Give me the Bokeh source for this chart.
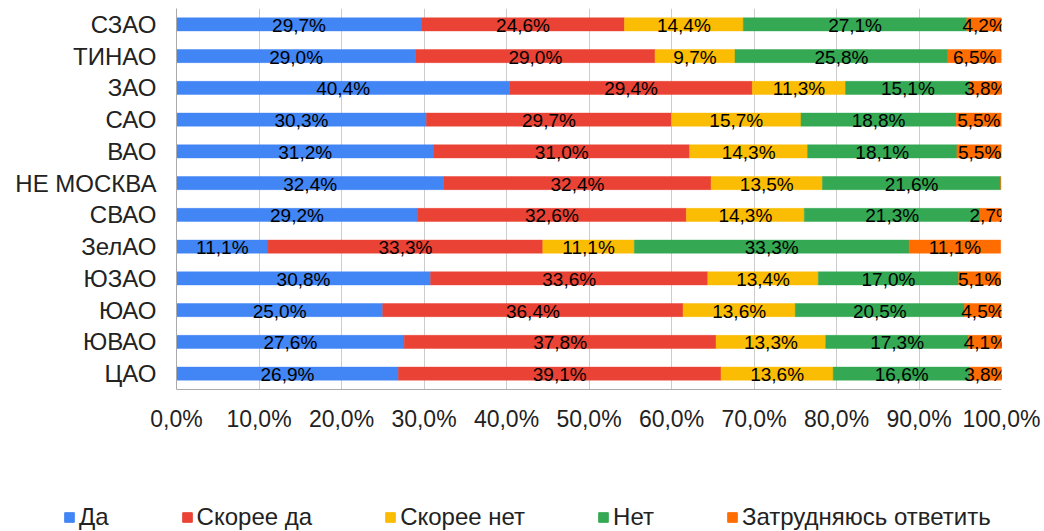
import numpy as np
from bokeh.plotting import figure
from bokeh.layouts import column
from bokeh.models import (ColumnDataSource, FactorRange, Range1d, FixedTicker,
                          Legend, LegendItem)
from bokeh.core.properties import value
from bokeh.embed import file_html
from bokeh.resources import INLINE

categories = ["СЗАО", "ТИНАО", "ЗАО", "САО", "ВАО", "НЕ МОСКВА", "СВАО",
              "ЗелАО", "ЮЗАО", "ЮАО", "ЮВАО", "ЦАО"]
series_names = ["Да", "Скорее да", "Скорее нет", "Нет", "Затрудняюсь ответить"]
da = [29.7, 29.0, 40.4, 30.3, 31.2, 32.4, 29.2, 11.1, 30.8, 25.0, 27.6, 26.9]
skoree_da = [24.6, 29.0, 29.4, 29.7, 31.0, 32.4, 32.6, 33.3, 33.6, 36.4, 37.8, 39.1]
skoree_net = [14.4, 9.7, 11.3, 15.7, 14.3, 13.5, 14.3, 11.1, 13.4, 13.6, 13.3, 13.6]
net = [27.1, 25.8, 15.1, 18.8, 18.1, 21.6, 21.3, 33.3, 17.0, 20.5, 17.3, 16.6]
zatr = [4.2, 6.5, 3.8, 5.5, 5.5, 0.0, 2.7, 11.1, 5.1, 4.5, 4.1, 3.8]
tick_values = [0, 10, 20, 30, 40, 50, 60, 70, 80, 90, 100]
tick_labels = ["0,0%", "10,0%", "20,0%", "30,0%", "40,0%", "50,0%",
               "60,0%", "70,0%", "80,0%", "90,0%", "100,0%"]
colors = ["#4285F4", "#EA4335", "#FBBC04", "#34A853", "#FF6D01"]

FONT = "Liberation Sans"

p = figure(width=1044, height=460, output_backend="svg", toolbar_location=None,
           y_range=FactorRange(factors=list(reversed(categories)), range_padding=0),
           x_range=Range1d(0, 100),
           min_border_left=176, min_border_right=43, min_border_top=8,
           min_border_bottom=71)
p.outline_line_color = None
p.frame_align = False

series = [da, skoree_da, skoree_net, net, zatr]
left = np.zeros(len(categories))
lab_x, lab_y, lab_t = [], [], []
for vals, col in zip(series, colors):
    vals = np.array(vals, dtype=float)
    right = left + vals
    src = ColumnDataSource(dict(y=categories, left=left.copy(), right=right.copy()))
    p.hbar(y="y", left="left", right="right", height=0.41, source=src,
           fill_color=col, line_color=col, line_width=0.5)
    for c, l, rr, v in zip(categories, left, right, vals):
        if v > 0:
            lab_x.append((l + rr) / 2)
            lab_y.append(c)
            lab_t.append(f"{v:.1f}%".replace(".", ","))
    left = right

lsrc = ColumnDataSource(dict(x=lab_x, y=lab_y, t=lab_t))
p.text(x="x", y="y", text="t", source=lsrc, text_align="center",
       text_baseline="middle", text_font=value(FONT), text_font_size="19px",
       text_color="#000000", y_offset=1)

# axes
p.xaxis.ticker = FixedTicker(ticks=tick_values)
p.xaxis.major_label_overrides = {v: s for v, s in zip(tick_values, tick_labels)}
p.xaxis.major_label_text_font = FONT
p.xaxis.major_label_text_font_size = "23px"
p.xaxis.major_label_text_color = "#222222"
p.xaxis.major_tick_in = 0
p.xaxis.major_tick_out = 0
p.xaxis.minor_tick_line_color = None
p.xaxis.major_label_standoff = 16
p.xaxis.axis_line_color = "#aaaaaa"

p.yaxis.major_label_text_font = FONT
p.yaxis.major_label_text_font_size = "24px"
p.yaxis.major_label_text_color = "#222222"
p.yaxis.major_tick_in = 0
p.yaxis.major_tick_out = 0
p.yaxis.major_label_standoff = 20
p.yaxis.axis_line_color = "#aaaaaa"

p.xgrid.grid_line_color = "#cccccc"
p.xgrid.ticker = FixedTicker(ticks=tick_values)
p.ygrid.grid_line_color = None

# legend strip (separate figure so the legend is not clipped by the main frame)
lf = figure(width=1044, height=71, output_backend="svg", toolbar_location=None,
            x_range=Range1d(0, 1), y_range=Range1d(0, 1),
            min_border_left=0, min_border_right=0, min_border_top=0,
            min_border_bottom=0)
lf.frame_align = False
lf.axis.visible = False
lf.grid.visible = False
lf.outline_line_color = None
items = []
for n, vals, col in zip(series_names, series, colors):
    r = lf.hbar(y=[0] * len(vals), left=0, right=vals, height=0.5,
                fill_color=col, line_color=col, visible=False)
    items.append(LegendItem(label=n, renderers=[r]))
legend = Legend(items=items, orientation="horizontal", location=(63, 0),
                glyph_width=12, glyph_height=12, label_standoff=4, spacing=72,
                padding=0, margin=0, border_line_color=None,
                background_fill_alpha=0, label_text_font=FONT,
                label_text_font_size="24px", label_text_color="#222222",
                label_height=22)
lf.add_layout(legend, "center")

open("out.html", "w").write(file_html(column(p, lf, spacing=0), INLINE))
